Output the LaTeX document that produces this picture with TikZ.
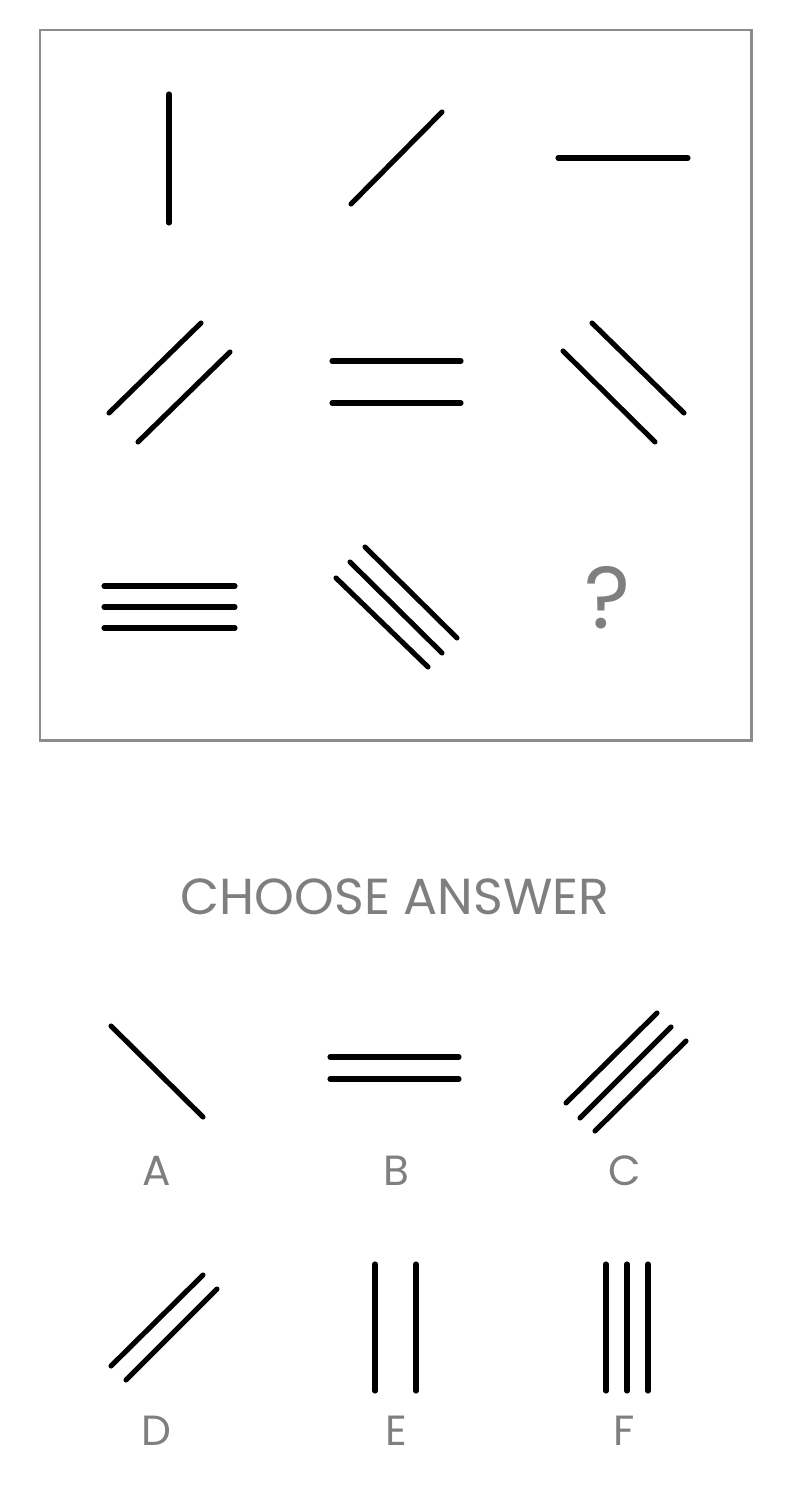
\documentclass[tikz,border=0pt]{standalone}
\usepackage{fontspec}
\setmainfont{Poppins}
\usepackage{tikz}

\definecolor{framegray}{HTML}{8C8C8C}
\definecolor{textgray}{HTML}{7F7F7F}

\begin{document}
\begin{tikzpicture}[x=0.01cm,y=-0.01cm,
  stroke/.style={line width=1.45pt,line cap=round,black},
  letter/.style={textgray,font=\fontsize{12}{12}\selectfont}]
\useasboundingbox (0,0) rectangle (804,1491);

% puzzle frame
\draw[framegray,line width=0.85pt] (40,30) rectangle (751,740);

% first row
\draw[stroke] (169,94) -- (169,223);
\draw[stroke] (351,204) -- (442,112);
\draw[stroke] (558,158) -- (688,158);

% second row
\draw[stroke] (109,413) -- (201,323);
\draw[stroke] (138,442) -- (230,352);
\draw[stroke] (332,361) -- (461,361);
\draw[stroke] (332,403) -- (461,403);
\draw[stroke] (563,351) -- (655,442);
\draw[stroke] (592,323) -- (684,413);

% third row
\draw[stroke] (104,586) -- (235,586);
\draw[stroke] (104,607) -- (235,607);
\draw[stroke] (104,628) -- (235,628);
\draw[stroke] (336,578) -- (428,667);
\draw[stroke] (350,562) -- (442,653);
\draw[stroke] (365,547) -- (457,638);
\node[textgray,font=\fontsize{25}{25}\selectfont] (qmark) at (608,598) {?};

\node[textgray,font=\fontsize{14.4}{14.4}\selectfont] (title) at (395,897) {CHOOSE ANSWER};

% answer A
\draw[stroke] (111,1026) -- (203,1117);
\node[letter] (labA) at (157,1171) {A};
% answer B
\draw[stroke] (330,1057) -- (459,1057);
\draw[stroke] (330,1079) -- (459,1079);
\node[letter] (labB) at (396,1171) {B};
% answer C
\draw[stroke] (566,1103) -- (657,1013);
\draw[stroke] (580,1118) -- (671,1027);
\draw[stroke] (595,1131) -- (686,1041);
\node[letter] (labC) at (625,1171) {C};

% answer D
\draw[stroke] (111,1366) -- (203,1275);
\draw[stroke] (126,1380) -- (217,1289);
\node[letter] (labD) at (156,1431) {D};
% answer E
\draw[stroke] (375,1264) -- (375,1391);
\draw[stroke] (416,1264) -- (416,1391);
\node[letter] (labE) at (396,1431) {E};
% answer F
\draw[stroke] (606,1264) -- (606,1391);
\draw[stroke] (627,1264) -- (627,1391);
\draw[stroke] (648,1264) -- (648,1391);
\node[letter] (labF) at (624,1431) {F};

\end{tikzpicture}
\end{document}
